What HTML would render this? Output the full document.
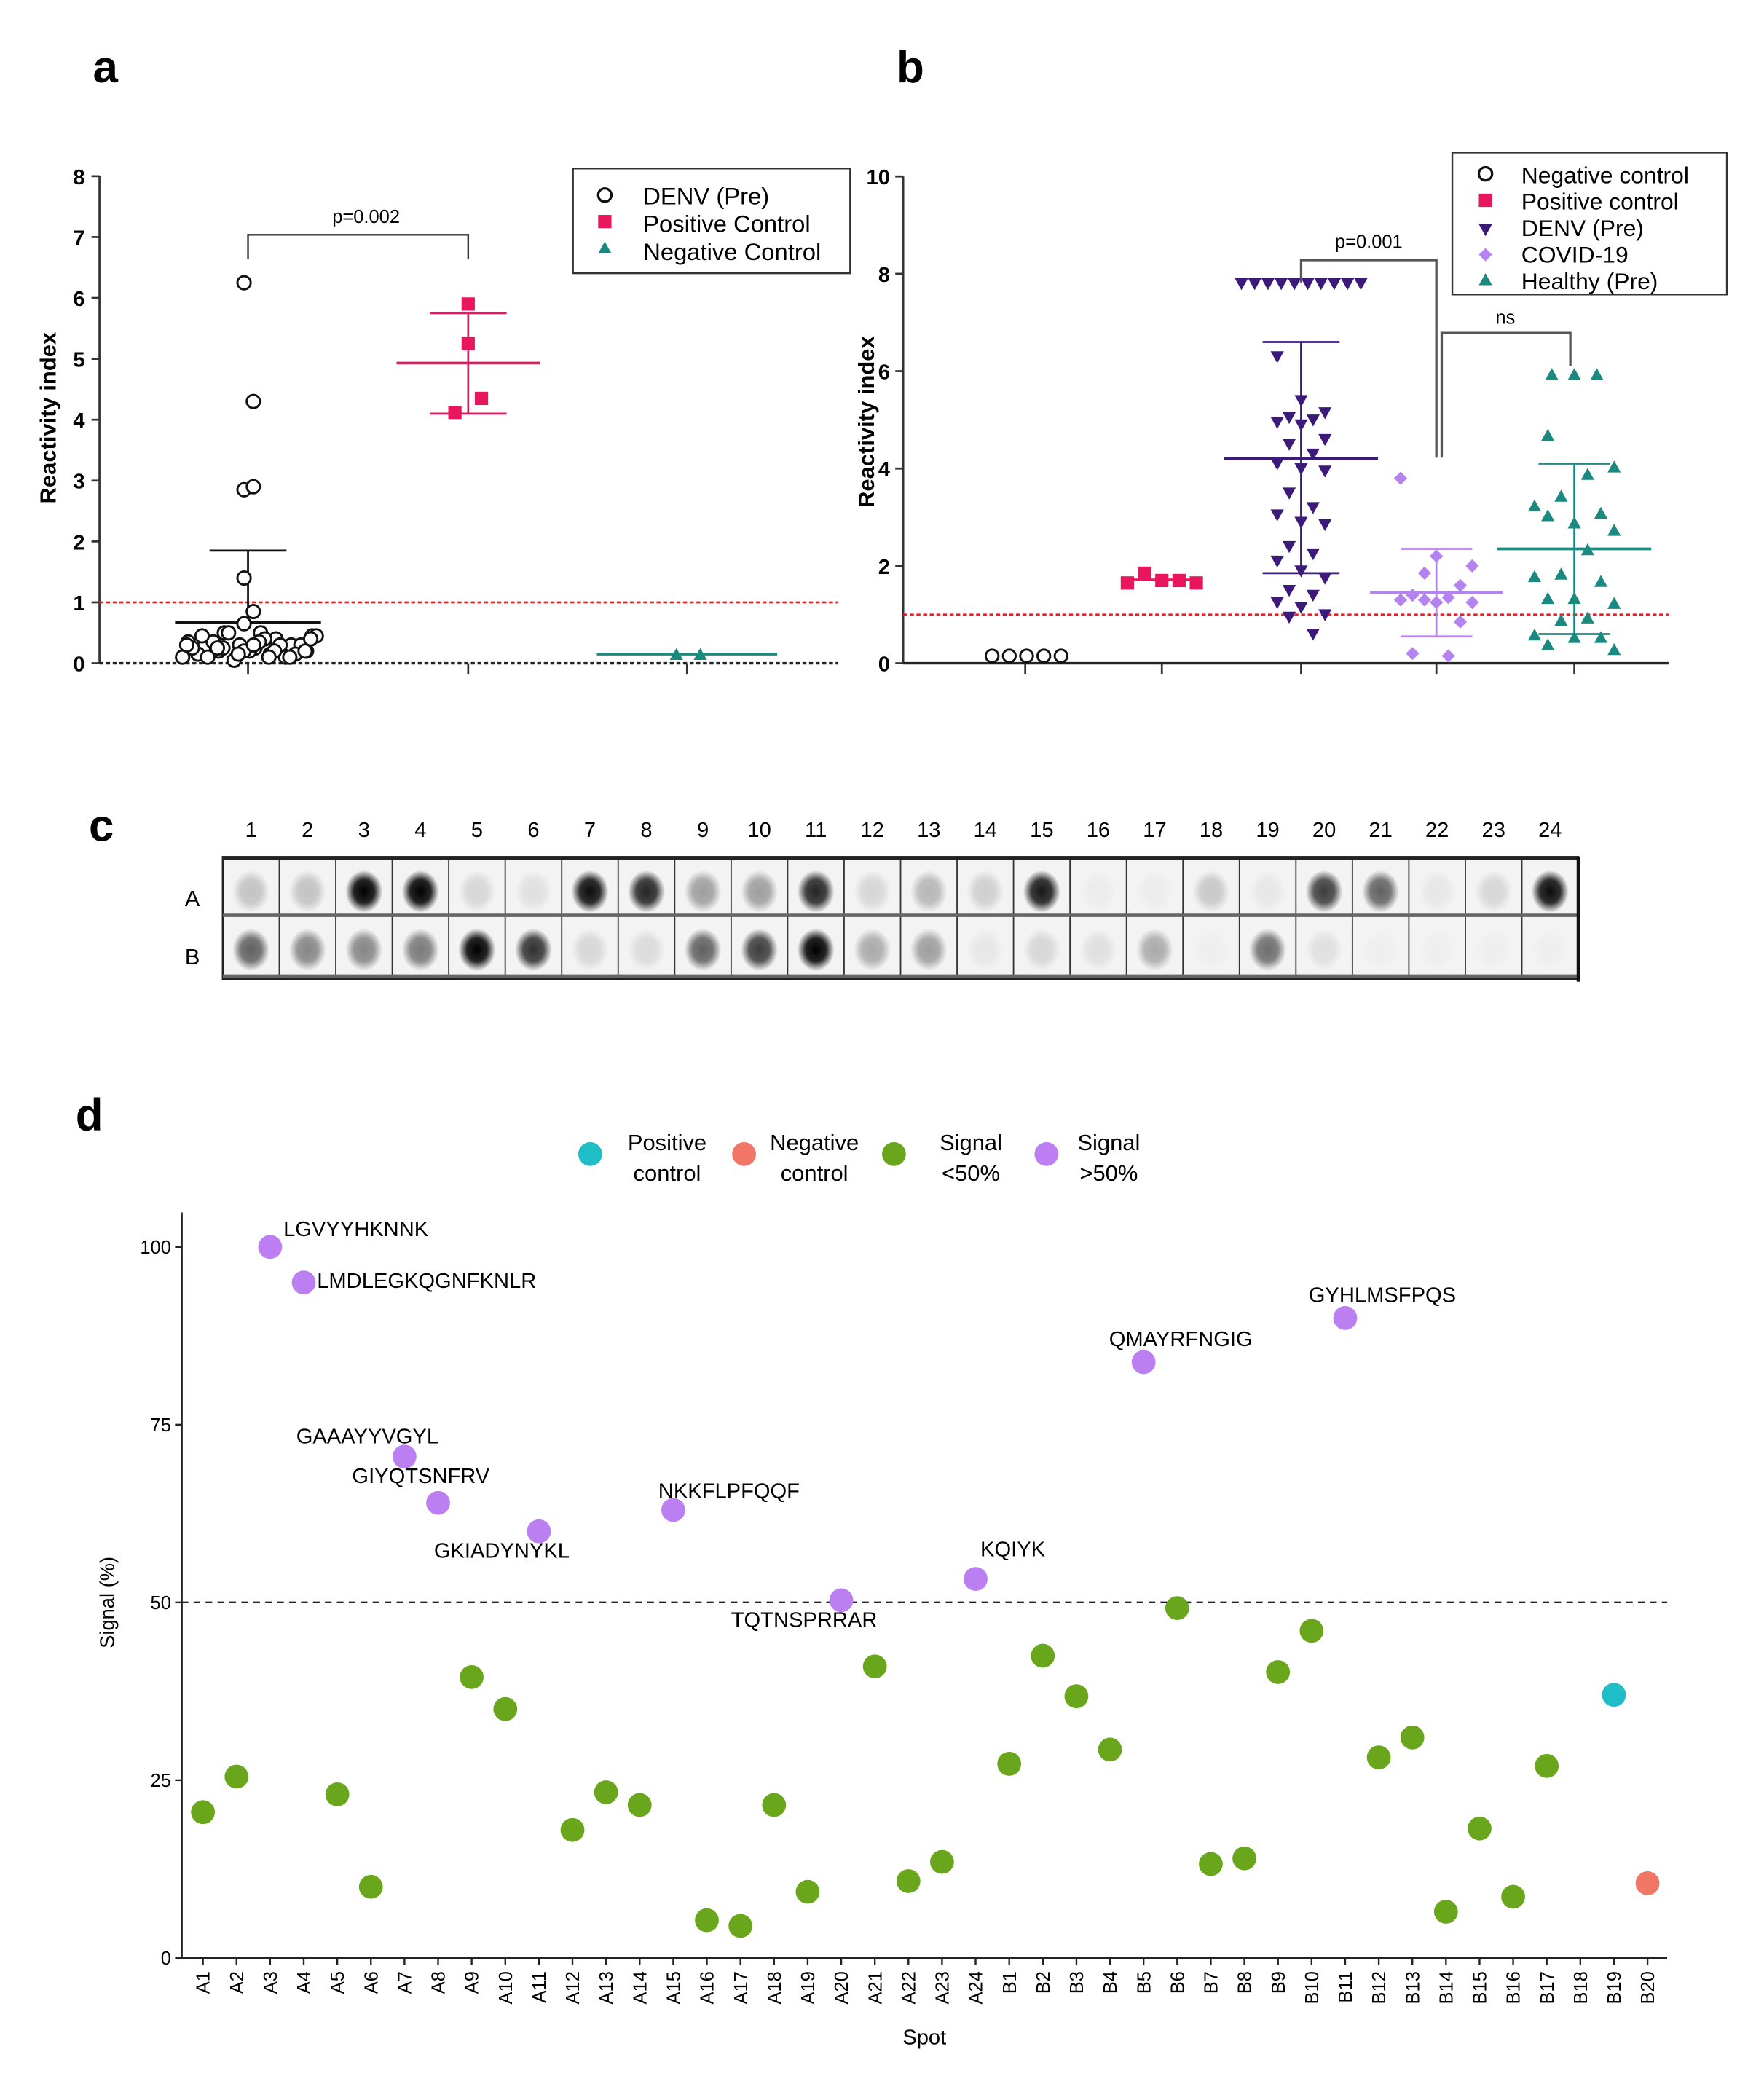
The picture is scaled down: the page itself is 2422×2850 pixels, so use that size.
<!DOCTYPE html>
<html><head><meta charset="utf-8"><style>
html,body{margin:0;padding:0;background:#fff;}
svg{display:block;font-family:"Liberation Sans",Arial,sans-serif;}
</style></head><body>
<svg id="fig" width="2422" height="2850" viewBox="0 0 1330 1565" xmlns="http://www.w3.org/2000/svg">
<g id="pa"></g>
<g id="pb"></g>
<g id="pc"></g>
<g id="pd"></g>
</svg>
<script>
// ---------- Panel a data ----------
const aCats = ["DENV (Pre)","Positive Control","Negative Control"];
const aDenv = [6.25,4.3,2.85,2.9,1.4,0.85,0.65,0.5,0.45,0.5,0.4,0.35,0.3,0.3,0.25,0.25,0.2,0.2,0.15,0.1,0.05,0.1,0.15,0.2,0.3,0.35,0.4,0.45,0.5,0.3,0.25,0.2,0.15,0.1,0.35,0.4,0.25,0.2,0.3,0.15,0.1,0.45,0.3,0.2,0.25,0.1];
const aPos = [5.9,5.25,4.35,4.12];
const aNeg = [0.12,0.12];
const aMean = [0.67,4.93,0.15];
const aSdHi = [1.85,5.75,0.15];
const aSdLo = [0.67,4.1,0.15];
const aTicks = [0,1,2,3,4,5,6,7,8];
// ---------- Panel b data ----------
const bCats = ["Negative control","Positive control","DENV (Pre)","COVID-19","Healthy (Pre)"];
const bNeg = [0.15,0.15,0.15,0.15,0.15];
const bPos = [1.65,1.85,1.7,1.7,1.65];
const bDenv = [7.8,7.8,7.8,7.8,7.8,7.8,7.8,7.8,7.8,7.8,6.3,5.4,5.15,5.05,5.0,4.95,4.9,4.6,4.5,4.3,4.1,4.0,3.95,3.5,3.2,3.05,2.9,2.85,2.4,2.25,2.1,1.9,1.75,1.5,1.4,1.25,1.15,1.0,0.95,0.6];
const bCovid = [3.8,2.2,2.0,1.85,1.6,1.4,1.35,1.3,1.25,1.25,1.3,0.85,0.2,0.15];
const bHealthy = [5.9,5.9,5.9,4.65,4.0,3.85,3.4,3.2,3.05,2.85,3.0,2.7,2.3,1.8,1.75,1.65,1.3,1.3,1.2,0.9,0.85,0.55,0.5,0.5,0.35,0.25];
const bMean = [0.15,1.72,4.2,1.45,2.35];
const bSdHi = [0.15,1.72,6.6,2.35,4.1];
const bSdLo = [0.15,1.72,1.85,0.55,0.6];
const bTicks = [0,2,4,6,8,10];
// ---------- Panel c data ----------
const cCols = ["1","2","3","4","5","6","7","8","9","10","11","12","13","14","15","16","17","18","19","20","21","22","23","24"];
const cRowA = [0.2,0.2,1.0,1.0,0.12,0.08,0.95,0.85,0.35,0.35,0.85,0.12,0.25,0.15,0.9,0.03,0.03,0.18,0.05,0.75,0.6,0.05,0.12,0.95];
const cRowB = [0.6,0.45,0.45,0.5,1.0,0.8,0.12,0.1,0.6,0.75,1.0,0.3,0.35,0.05,0.12,0.08,0.3,0.02,0.55,0.08,0.02,0.02,0.02,0.02];
// ---------- Panel d data ----------
const dSpots = ["A1","A2","A3","A4","A5","A6","A7","A8","A9","A10","A11","A12","A13","A14","A15","A16","A17","A18","A19","A20","A21","A22","A23","A24","B1","B2","B3","B4","B5","B6","B7","B8","B9","B10","B11","B12","B13","B14","B15","B16","B17","B18","B19","B20"];
const dSignal = [20.5,25.5,100,95,23,10,70.5,64,39.5,35,60,18,23.3,21.5,63,5.3,4.5,21.5,9.3,50.3,41,10.8,13.5,53.3,27.3,42.5,36.8,29.3,83.8,49.2,13.2,14,40.2,46,90,28.2,31,6.5,18.2,8.6,27,null,37,10.5];
const dGroup = ["g","g","p","p","g","g","p","p","g","g","p","g","g","g","p","g","g","g","g","p","g","g","g","p","g","g","g","g","p","g","g","g","g","g","p","g","g","g","g","g","g","n","pos","neg"];
const dLabels = {"A3":"LGVYYHKNNK","A4":"LMDLEGKQGNFKNLR","A7":"GAAAYYVGYL","A8":"GIYQTSNFRV","A11":"GKIADYNYKL","A15":"NKKFLPFQQF","A20":"TQTNSPRRAR","A24":"KQIYK","B5":"QMAYRFNGIG","B11":"GYHLMSFPQS"};
const dYTicks = [0,25,50,75,100];

const NS="http://www.w3.org/2000/svg";
function mk(parent,tag,attrs,text){const e=document.createElementNS(NS,tag);for(const k in attrs)e.setAttribute(k,attrs[k]);if(text!==undefined)e.textContent=text;parent.appendChild(e);return e;}

// ===== Panel a =====
(function(){
const g=document.getElementById('pa');
const y=v=>500-v*45.9; const xs=[187,353,518];
let t=mk(g,'text',{x:70,y:62,'font-size':34,'font-weight':'bold'},'a');


let ax=mk(g,'line',{x1:75,y1:y(8),x2:75,y2:500,stroke:'#333','stroke-width':1.5});


aTicks.forEach(v=>{mk(g,'line',{x1:69,y1:y(v),x2:75,y2:y(v),stroke:'#333','stroke-width':1.5});
 const tl=mk(g,'text',{x:64,y:y(v)+6,'font-size':16,'font-weight':'bold','text-anchor':'end'},v);
 
 });
let yt=mk(g,'text',{x:42,y:315,'font-size':17,'font-weight':'bold','text-anchor':'middle',transform:'rotate(-90 42 315)'},'Reactivity index');


mk(g,'line',{x1:75,y1:500,x2:632,y2:500,stroke:'#222','stroke-width':1.8,'stroke-dasharray':'3,2'});
xs.forEach(x=>mk(g,'line',{x1:x,y1:500,x2:x,y2:508,stroke:'#333','stroke-width':1.5}));
let rl=mk(g,'line',{x1:75,y1:y(1),x2:632,y2:y(1),stroke:'#e0222a','stroke-width':1.5,'stroke-dasharray':'3,2'});


const cols=['#111','#e8175d','#1a8a80'];
const mw=[55,54,68];
xs.forEach((x,i)=>{
 mk(g,'line',{x1:x,y1:y(aSdHi[i]),x2:x,y2:y(aSdLo[i]),stroke:cols[i],'stroke-width':1.5});
 mk(g,'line',{x1:x-mw[i],y1:y(aMean[i]),x2:x+mw[i],y2:y(aMean[i]),stroke:cols[i],'stroke-width':2});
 if(i<2){mk(g,'line',{x1:x-29,y1:y(aSdHi[i]),x2:x+29,y2:y(aSdHi[i]),stroke:cols[i],'stroke-width':1.5});
 mk(g,'line',{x1:x-29,y1:y(aSdLo[i]),x2:x+29,y2:y(aSdLo[i]),stroke:cols[i],'stroke-width':1.5});}
});
aDenv.forEach((v,i)=>{const off=v>0.6?(i%2?4:-3):((i*37)%100-50)*1.05;
 const c=mk(g,'circle',{cx:187+off,cy:y(v),r:5,fill:'#fff',stroke:'#111','stroke-width':1.6});
 
 });
const posOff=[0,0,10,-10];
aPos.forEach((v,i)=>{const r=mk(g,'rect',{x:353+posOff[i]-5,y:y(v)-5,width:10,height:10,fill:'#e8175d'});
 
 });
aNeg.forEach((v,i)=>{const x=510+i*18;const p=mk(g,'polygon',{points:`${x},${y(v)-6} ${x-5},${y(v)+3} ${x+5},${y(v)+3}`,fill:'#1a8a80'});
 
 });
mk(g,'path',{d:`M187 195 V177 H353 V195`,fill:'none',stroke:'#333','stroke-width':1.3});
let pv=mk(g,'text',{x:276,y:168,'font-size':14,'text-anchor':'middle'},'p=0.002');


const lg=mk(g,'g',{});


mk(lg,'rect',{x:432,y:127,width:209,height:79,fill:'#fff',stroke:'#333','stroke-width':1.3});
mk(lg,'circle',{cx:456,cy:147,r:5,fill:'none',stroke:'#111','stroke-width':1.8});
mk(lg,'rect',{x:451,y:162,width:10,height:10,fill:'#e8175d'});
mk(lg,'polygon',{points:'456,182 451,191 461,191',fill:'#1a8a80'});
aCats.forEach((c,i)=>{const e=mk(lg,'text',{x:485,y:154+i*21,'font-size':18},c);
 
 });
})();

// ===== Panel b =====
(function(){
const g=document.getElementById('pb');
const y=v=>500-v*36.7; const xs=[773,876,981,1083,1187];
let t=mk(g,'text',{x:676,y:62,'font-size':34,'font-weight':'bold'},'b');


mk(g,'line',{x1:681,y1:y(10),x2:681,y2:500,stroke:'#333','stroke-width':1.5});
mk(g,'line',{x1:681,y1:500,x2:1258,y2:500,stroke:'#222','stroke-width':1.8});
bTicks.forEach(v=>{mk(g,'line',{x1:675,y1:y(v),x2:681,y2:y(v),stroke:'#333','stroke-width':1.5});
 const tl=mk(g,'text',{x:671,y:y(v)+6,'font-size':16,'font-weight':'bold','text-anchor':'end'},v);
 
 });
let yt=mk(g,'text',{x:659,y:318,'font-size':17,'font-weight':'bold','text-anchor':'middle',transform:'rotate(-90 659 318)'},'Reactivity index');


xs.forEach(x=>mk(g,'line',{x1:x,y1:500,x2:x,y2:508,stroke:'#333','stroke-width':1.5}));
let rl=mk(g,'line',{x1:681,y1:y(1),x2:1258,y2:y(1),stroke:'#e0222a','stroke-width':1.5,'stroke-dasharray':'3,2'});


const cols=['#111','#e8175d','#3b1a7a','#b583f0','#1a8a80'];
const mw=[0,0,58,50,58], cw=[0,0,29,27,27];
xs.forEach((x,i)=>{ if(i<2) return;
 mk(g,'line',{x1:x,y1:y(bSdHi[i]),x2:x,y2:y(bSdLo[i]),stroke:cols[i],'stroke-width':1.5});
 mk(g,'line',{x1:x-mw[i],y1:y(bMean[i]),x2:x+mw[i],y2:y(bMean[i]),stroke:cols[i],'stroke-width':2});
 mk(g,'line',{x1:x-cw[i],y1:y(bSdHi[i]),x2:x+cw[i],y2:y(bSdHi[i]),stroke:cols[i],'stroke-width':1.5});
 mk(g,'line',{x1:x-cw[i],y1:y(bSdLo[i]),x2:x+cw[i],y2:y(bSdLo[i]),stroke:cols[i],'stroke-width':1.5});
});
mk(g,'line',{x1:850,y1:y(1.72),x2:902,y2:y(1.72),stroke:'#e8175d','stroke-width':1.5});
bNeg.forEach((v,i)=>{const c=mk(g,'circle',{cx:748+i*13,cy:y(v),r:4.8,fill:'#fff',stroke:'#111','stroke-width':1.6});
 
 });
bPos.forEach((v,i)=>{const r=mk(g,'rect',{x:850+i*13-5,y:y(v)-5,width:10,height:10,fill:'#e8175d'});
 
 });
const tri=(x,yy,down)=>down?`${x-5},${yy-4} ${x+5},${yy-4} ${x},${yy+5}`:`${x},${yy-6} ${x-5},${yy+3} ${x+5},${yy+3}`;
bDenv.forEach((v,i)=>{const off=i<10?(i-4.5)*10:((i*7)%5-2)*9;
 const p=mk(g,'polygon',{points:tri(981+off,y(v),true),fill:'#3b1a7a'});
 
 });
bCovid.forEach((v,i)=>{const off=((i*3)%7-3)*9;const x=1083+off,yy=y(v);
 const p=mk(g,'polygon',{points:`${x},${yy-5} ${x+5},${yy} ${x},${yy+5} ${x-5},${yy}`,fill:'#b583f0'});
 
 });
bHealthy.forEach((v,i)=>{const off=i<3?(i-1)*17:((i*5)%7-3)*10;
 const p=mk(g,'polygon',{points:tri(1187+off,y(v),false),fill:'#1a8a80'});
 
 });
mk(g,'path',{d:`M981 213 V196 H1083 V345`,fill:'none',stroke:'#555','stroke-width':1.8});
mk(g,'path',{d:`M1087 345 V251 H1184 V276`,fill:'none',stroke:'#555','stroke-width':1.8});
let p1=mk(g,'text',{x:1032,y:187,'font-size':14,'text-anchor':'middle'},'p=0.001');


let p2=mk(g,'text',{x:1135,y:244,'font-size':14,'text-anchor':'middle'},'ns');


const lg=mk(g,'g',{});


mk(lg,'rect',{x:1095,y:115,width:207,height:107,fill:'#fff',stroke:'#333','stroke-width':1.3});
mk(lg,'circle',{cx:1120,cy:131,r:5,fill:'none',stroke:'#111','stroke-width':1.8});
mk(lg,'rect',{x:1115,y:146,width:10,height:10,fill:'#e8175d'});
mk(lg,'polygon',{points:tri(1120,173,true),fill:'#3b1a7a'});
mk(lg,'polygon',{points:'1120,187 1125,192 1120,197 1115,192',fill:'#b583f0'});
mk(lg,'polygon',{points:tri(1120,212,false),fill:'#1a8a80'});
bCats.forEach((c,i)=>{const e=mk(lg,'text',{x:1147,y:138+i*20,'font-size':17.5},c);
 
 });
})();

// ===== Panel c =====
(function(){
const g=document.getElementById('pc');
let t=mk(g,'text',{x:67,y:634,'font-size':34,'font-weight':'bold'},'c');


const x0=168, x1=1190, w=(x1-x0)/24;
const defs=mk(g,'defs',{});
const rg=mk(defs,'radialGradient',{id:'spot'});
mk(rg,'stop',{offset:'0','stop-color':'#000','stop-opacity':1});
mk(rg,'stop',{offset:'0.55','stop-color':'#000','stop-opacity':0.85});
mk(rg,'stop',{offset:'1','stop-color':'#000','stop-opacity':0});
mk(g,'rect',{x:x0,y:646,width:x1-x0,height:92,fill:'#f3f3f3'});
cCols.forEach((c,i)=>{const cx=x0+w*(i+0.5);
 const e=mk(g,'text',{x:cx,y:631,'font-size':16,'text-anchor':'middle'},c);
 
 
 const a=mk(g,'ellipse',{cx:cx,cy:672,rx:14,ry:16,fill:'url(#spot)',opacity:cRowA[i]});
 
 
 const b=mk(g,'ellipse',{cx:cx,cy:716,rx:14,ry:16,fill:'url(#spot)',opacity:cRowB[i]});
 
 
 mk(g,'line',{x1:x0+w*i,y1:646,x2:x0+w*i,y2:738,stroke:'#333','stroke-width':1});
});
mk(g,'rect',{x:x0,y:646,width:x1-x0,height:92,fill:'none',stroke:'#222','stroke-width':1.5});
mk(g,'line',{x1:x0,y1:647,x2:x1,y2:647,stroke:'#222','stroke-width':3});
mk(g,'line',{x1:x0,y1:690,x2:x1,y2:690,stroke:'#666','stroke-width':2.5});
mk(g,'line',{x1:x0,y1:736,x2:x1,y2:736,stroke:'#666','stroke-width':3});
mk(g,'line',{x1:x1,y1:646,x2:x1,y2:740,stroke:'#111','stroke-width':2.5});
let ra=mk(g,'text',{x:145,y:683,'font-size':17,'text-anchor':'middle'},'A');


let rb=mk(g,'text',{x:145,y:727,'font-size':17,'text-anchor':'middle'},'B');


})();

// ===== Panel d =====
(function(){
const g=document.getElementById('pd');
const y=v=>1476-v*5.36; const x=i=>153+i*25.33;
let t=mk(g,'text',{x:57,y:852,'font-size':34,'font-weight':'bold'},'d');


const colOf={g:'#6aa61c',p:'#bb7ff2',pos:'#1fbdc5',neg:'#f27665'};
// legend
const lg=mk(g,'g',{});


const lgItems=[['#1fbdc5',445,'Positive','control',503],['#f27665',561,'Negative','control',614],['#6aa61c',674,'Signal','<50%',732],['#bb7ff2',789,'Signal','>50%',836]];
lgItems.forEach(it=>{mk(lg,'circle',{cx:it[1],cy:870,r:9,fill:it[0]});
 const a=mk(lg,'text',{x:it[4],y:867,'font-size':17,'text-anchor':'middle'},it[2]);
 
 
 mk(lg,'text',{x:it[4],y:890,'font-size':17,'text-anchor':'middle'},it[3]);});
mk(g,'line',{x1:137,y1:914,x2:137,y2:1476,stroke:'#222','stroke-width':1.5});
mk(g,'line',{x1:137,y1:1476,x2:1257,y2:1476,stroke:'#222','stroke-width':1.5});
dYTicks.forEach(v=>{mk(g,'line',{x1:132,y1:y(v),x2:137,y2:y(v),stroke:'#222','stroke-width':1.3});
 const e=mk(g,'text',{x:129,y:y(v)+5,'font-size':14,'text-anchor':'end'},v);
 
 });
let dl=mk(g,'line',{x1:137,y1:y(50),x2:1257,y2:y(50),stroke:'#222','stroke-width':1.3,'stroke-dasharray':'5,4'});


dSpots.forEach((s,i)=>{mk(g,'line',{x1:x(i),y1:1476,x2:x(i),y2:1481,stroke:'#222','stroke-width':1.3});
 const e=mk(g,'text',{x:x(i)+5,y:1486,'font-size':14,'text-anchor':'end',transform:`rotate(-90 ${x(i)+5} 1486)`},s);
 
 
 const v=dSignal[i]; if(v===null) return;
 const c=mk(g,'circle',{cx:x(i),cy:y(v),r:9,fill:colOf[dGroup[i]]});
 
 
});
const lpos={"A3":[10,-8,'start'],"A4":[10,4,'start'],"A7":[-28,-10,'middle'],"A8":[-13,-15,'middle'],"A11":[-28,20,'middle'],"A15":[42,-9,'middle'],"A20":[-28,20,'middle'],"A24":[28,-17,'middle'],"B5":[28,-12,'middle'],"B11":[28,-12,'middle']};
dSpots.forEach((s,i)=>{ if(!dLabels[s]) return; const o=lpos[s];
 const e=mk(g,'text',{x:x(i)+o[0],y:y(dSignal[i])+o[1],'font-size':16,'text-anchor':o[2]},dLabels[s]);
 
 });
let yt=mk(g,'text',{x:86,y:1208,'font-size':15,'text-anchor':'middle',transform:'rotate(-90 86 1208)'},'Signal (%)');


let xt=mk(g,'text',{x:697,y:1541,'font-size':16,'text-anchor':'middle'},'Spot');


})();
</script>
</body></html>
